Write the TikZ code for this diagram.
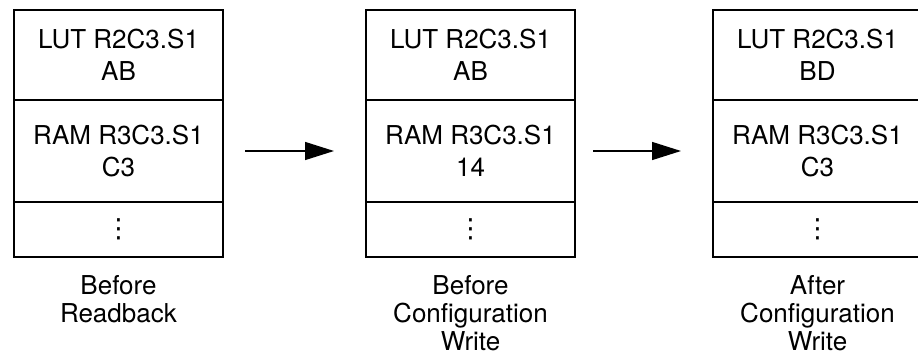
\documentclass[tikz,border=0pt]{standalone}
\usepackage{fontspec}
\setmainfont{TeX Gyre Heros}
\newfontfamily\dotsFont{DejaVu Sans}
\usepackage{tikz}
\usetikzlibrary{positioning,arrows.meta}
\newcommand{\cellFont}{\fontsize{14.8pt}{18.2pt}\selectfont}
\newcommand{\capFont}{\fontsize{14.8pt}{15.9pt}\selectfont}
\newcommand{\moreDots}{{\dotsFont\fontsize{15pt}{15pt}\selectfont ⋮}}

\begin{document}
\begin{tikzpicture}[
			cell/.style={rectangle, draw=black, line width=0.8pt, minimum width=4.18cm, inner sep=0pt, outer sep=0pt, align=center, font=\cellFont},
			lut/.style={cell, minimum height=1.8cm},
			ram/.style={cell, minimum height=2.04cm},
			more/.style={cell, minimum height=1.1cm},
			caption/.style={align=center, inner sep=0pt, font=\capFont},
			flow/.style={line width=0.8pt, -{Triangle[length=0.58cm, width=0.36cm]}, shorten >=0.64cm}
		]
		\useasboundingbox (0,0) rectangle (18.36,-7.16);

		% before readback
		\node[lut, anchor=north west] (lut1) at (0.28,-0.2) {LUT R2C3.S1\\AB};
		\node[ram] (ram1) [below=0pt of lut1] {RAM R3C3.S1\\C3};
		\node[more] (more1) [below=0pt of ram1] {\moreDots};
		\node[caption] (cap1) [below=0.36cm of more1] {Before\\Readback};

		% before configuration write
		\node[lut] (lut2) [right=2.86cm of lut1] {LUT R2C3.S1\\AB};
		\node[ram] (ram2) [below=0pt of lut2] {RAM R3C3.S1\\14};
		\node[more] (more2) [below=0pt of ram2] {\moreDots};
		\node[caption] (cap2) [below=0.36cm of more2] {Before\\Configuration\\Write};

		% after configuration write
		\node[lut] (lut3) [right=2.76cm of lut2] {LUT R2C3.S1\\BD};
		\node[ram] (ram3) [below=0pt of lut3] {RAM R3C3.S1\\C3};
		\node[more] (more3) [below=0pt of ram3] {\moreDots};
		\node[caption] (cap3) [below=0.36cm of more3] {After\\Configuration\\Write};

		\draw[flow, shorten <=0.44cm] (ram1) -- (ram2);
		\draw[flow, shorten <=0.36cm] (ram2) -- (ram3);
		\end{tikzpicture}
\end{document}
